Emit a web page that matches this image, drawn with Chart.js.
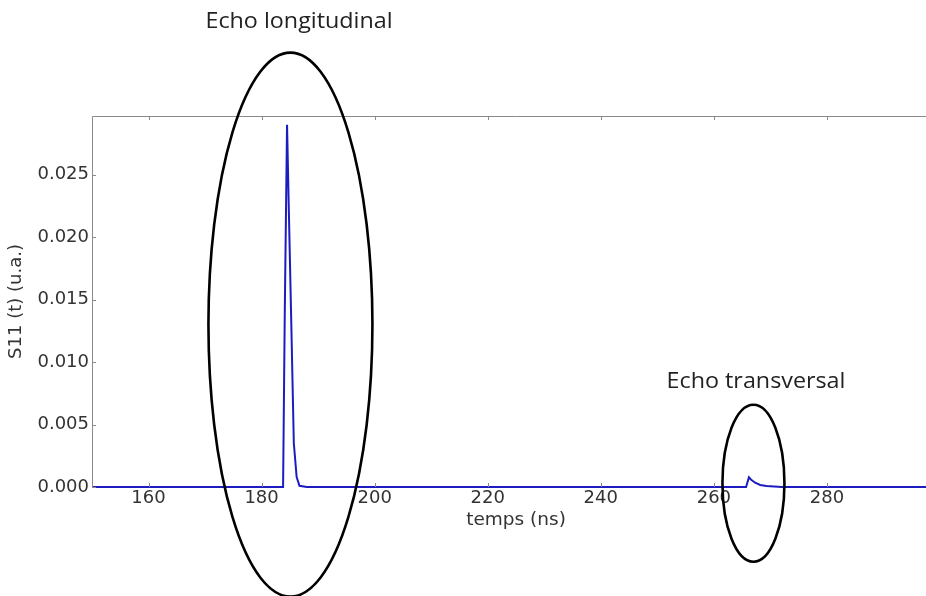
<!DOCTYPE html>
<html>
<head>
<meta charset="utf-8">
<script src="https://cdn.jsdelivr.net/npm/chart.js@4/dist/chart.umd.min.js"></script>
<style>
html,body{margin:0;padding:0;background:#fff;overflow:hidden}
#wrap{width:941px;height:596px;position:relative}
</style>
</head>
<body>
<div id="wrap"><canvas id="c"></canvas></div>
<script>
// ---- data ----
const timeNs = [150, 160, 170, 180, 183.8, 184.1, 184.5, 184.85, 185.2, 185.7, 186.2, 186.7, 188, 200, 220, 240, 260, 265.7, 266.2, 266.6, 267.3, 268.2, 269.3, 272, 280, 300];
const s11    = [0, 0, 0, 0, 0, 0.0140, 0.0290, 0.0215, 0.0142, 0.0035, 0.0008, 0.0001, 0, 0, 0, 0, 0, 0, 0.00078, 0.00058, 0.00034, 0.00016, 0.00008, 0, 0, 0];
const xTickValues = [160, 180, 200, 220, 240, 260, 280];
const yTickValues = [0, 0.005, 0.010, 0.015, 0.020, 0.025];
const xTitle = 'temps (ns)';
const yTitle = 'S11 (t) (u.a.)';
const annLabels = ['Echo longitudinal', 'Echo transversal'];
// annotation ellipse centres in data units
const annCentreT = [185.1, 267.0];
const annCentreV = [0.0130, 0.0003];

const points = timeNs.map((t, i) => ({x: t, y: s11[i]}));

const frameAndAnnotations = {
  id: 'frameAndAnnotations',
  afterDatasetsDraw(chart) {
    const {ctx, chartArea: a, scales: {x, y}} = chart;
    ctx.save();
    ctx.strokeStyle = '#8a8a8a';
    ctx.lineWidth = 1;
    ctx.beginPath();
    ctx.moveTo(a.left + 0.5, a.bottom);
    ctx.lineTo(a.left + 0.5, a.top + 0.5);
    ctx.lineTo(a.right, a.top + 0.5);
    ctx.stroke();
    ctx.beginPath();
    xTickValues.forEach(v => {
      const px = Math.round(x.getPixelForValue(v)) + 0.5;
      ctx.moveTo(px, a.top); ctx.lineTo(px, a.top + 4);
      ctx.moveTo(px, a.bottom); ctx.lineTo(px, a.bottom - 4);
    });
    yTickValues.forEach(v => {
      const py = Math.round(y.getPixelForValue(v)) + 0.5;
      ctx.moveTo(a.left, py); ctx.lineTo(a.left + 4, py);
    });
    ctx.stroke();
    ctx.restore();
  },
  afterDraw(chart) {
    const {ctx, scales: {x, y}} = chart;
    ctx.save();
    ctx.strokeStyle = '#000';
    ctx.lineWidth = 2.6;
    const radii = [[82, 272], [31, 78.5]];
    annCentreT.forEach((t, i) => {
      const cx = x.getPixelForValue(t);
      const cy = y.getPixelForValue(annCentreV[i]);
      ctx.beginPath();
      ctx.ellipse(cx, cy, radii[i][0], radii[i][1], 0, 0, Math.PI * 2);
      ctx.stroke();
    });
    ctx.fillStyle = '#222';
    ctx.font = '21px "Open Sans"';
    ctx.textAlign = 'center';
    ctx.textBaseline = 'middle';
    const pos = [[299, 22], [756, 382]];
    annLabels.forEach((txt, i) => {
      ctx.save();
      ctx.translate(pos[i][0], pos[i][1]);
      ctx.scale(1.11, 1);
      ctx.fillText(txt, 0, 0);
      ctx.restore();
    });
    ctx.restore();
  }
};

new Chart(document.getElementById('c'), {
  type: 'line',
  data: {
    datasets: [{
      data: points,
      borderColor: '#1c1cc0',
      borderWidth: 2,
      pointRadius: 0,
      tension: 0,
      fill: false,
      clip: 6
    }]
  },
  options: {
    responsive: true,
    maintainAspectRatio: false,
    animation: false,
    layout: {padding: {top: 116, right: 1, left: 0, bottom: 0}},
    plugins: {legend: {display: false}, tooltip: {enabled: false}},
    scales: {
      x: {
        type: 'linear',
        min: 150,
        max: 300,
        afterBuildTicks: s => { s.ticks = xTickValues.map(v => ({value: v})); },
        afterFit: s => { s.height = 109; },
        grid: {display: false, drawTicks: false, tickLength: 0},
        border: {display: false},
        ticks: {
          font: {family: 'DejaVu Sans', size: 18},
          color: '#333',
          padding: 1,
          maxRotation: 0,
          autoSkip: false,
          callback: v => String(v)
        },
        title: {
          display: true,
          text: xTitle,
          font: {family: 'DejaVu Sans', size: 18.5},
          color: '#333',
          padding: {top: 0, bottom: 65}
        }
      },
      y: {
        min: 0,
        max: 0.0297,
        afterBuildTicks: s => { s.ticks = yTickValues.map(v => ({value: v})); },
        afterFit: s => { s.width = 92; },
        grid: {display: false, drawTicks: false, tickLength: 0},
        border: {display: false},
        ticks: {
          font: {family: 'DejaVu Sans', size: 18},
          color: '#333',
          padding: 3,
          autoSkip: false,
          callback: v => v.toFixed(3)
        },
        title: {
          display: true,
          text: yTitle,
          font: {family: 'DejaVu Sans', size: 18},
          color: '#333',
          padding: {top: 6, bottom: 0}
        }
      }
    }
  },
  plugins: [frameAndAnnotations]
});
</script>
</body>
</html>
